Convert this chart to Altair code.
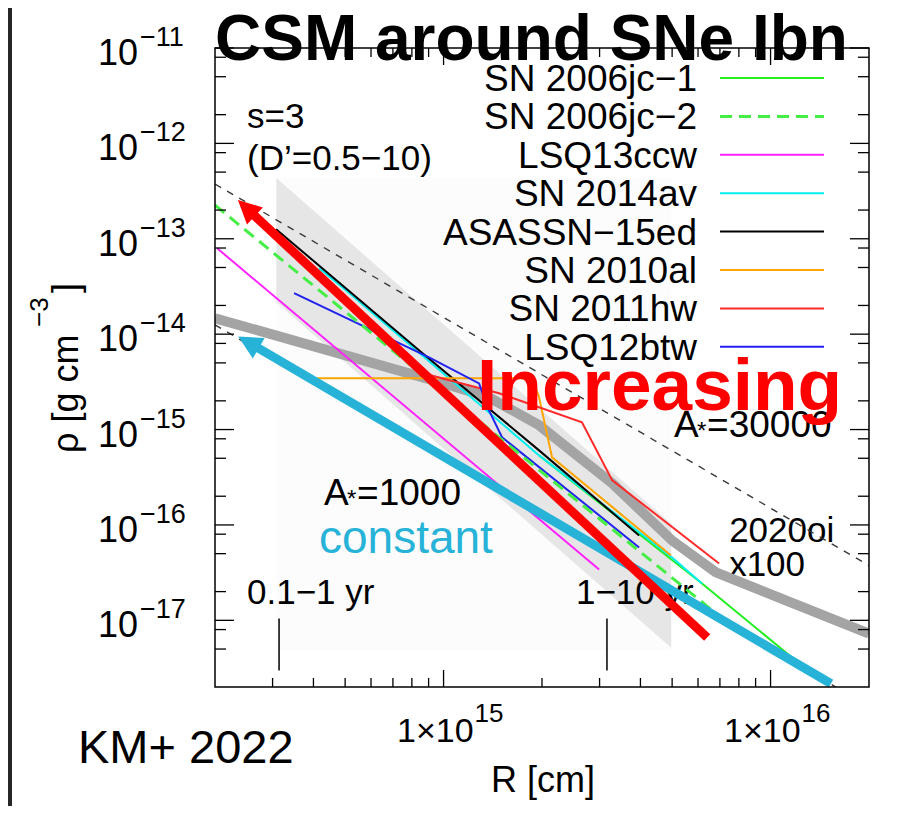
import altair as alt
import pandas as pd

# ---------------- data (R [cm], rho [g cm^-3]) ----------------
sn2006jc_1_R = [1.959e15, 6.17e15, 1.163e16]
sn2006jc_1_rho = [5.36e-16, 2.43e-17, 4.07e-18]
sn2006jc_2_R = [2.0e14, 1.478e15, 6.58e15]
sn2006jc_2_rho = [2.25e-13, 8.28e-16, 1.30e-17]
lsq13ccw_R = [2.03e14, 2.99e15]
lsq13ccw_rho = [7.96e-14, 3.41e-17]
sn2014av_R = [4.16e14, 5.03e14, 1.959e15, 4.998e15, 6.17e15]
sn2014av_rho = [4.91e-14, 2.89e-14, 5.36e-16, 4.56e-17, 2.43e-17]
asassn15ed_R = [3.075e14, 8.41e14, 1.959e15, 3.963e15]
asassn15ed_rho = [1.26e-13, 6.78e-15, 6.05e-16, 7.76e-17]
sn2010al_R = [4.10e14, 1.865e15, 1.959e15, 2.147e15, 4.96e15]
sn2010al_rho = [3.45e-15, 3.45e-15, 2.18e-15, 5.11e-16, 4.79e-17]
sn2011hw_R = [8.41e14, 1.478e15, 2.65e15, 3.28e15, 6.96e15]
sn2011hw_rho = [3.98e-15, 2.40e-15, 1.19e-15, 2.93e-16, 3.94e-17]
lsq12btw_R = [3.49e14, 5.79e14, 9.03e14, 1.284e15, 1.377e15, 1.51e15, 3.963e15]
lsq12btw_rho = [2.69e-14, 1.18e-14, 5.72e-15, 3.05e-15, 1.59e-15, 8.28e-16, 5.81e-17]
sn2020oi_R = [2.0e14, 1.003e15, 1.377e15, 1.959e15, 3.28e15, 4.998e15, 6.81e15, 2.0e16]
sn2020oi_rho = [1.47e-14, 3.05e-15, 2.18e-15, 1.11e-15, 2.73e-16, 6.87e-17, 3.18e-17, 7.27e-18]

wind30000_R = [2e14, 2e16]
wind30000_rho = [3.75e-13, 3.75e-17]
wind1000_R = [2e14, 2e16]
wind1000_rho = [1.25e-14, 1.25e-18]

band_R = [3.08e14, 4.97e15]
band_hi = [4.33e-13, 1.03e-16]
band_lo = [2.17e-14, 5.15e-18]
faint_R = [3.08e14, 4.97e15]
faint_rho = [4.33e-13, 4.82e-18]

epoch_R = [3.14e14, 3.16e15]
epoch_top = [1.045e-17, 1.045e-17]
epoch_bot = [2.97e-18, 2.97e-18]

red_arrow_R = [6.40e15, 2.495e14]
red_arrow_rho = [6.61e-18, 2.10e-13]
cyan_arrow_R = [1.53e16, 2.532e14]
cyan_arrow_rho = [2.17e-18, 8.20e-15]

ann_text = ["s=3", "(D’=0.5−10)", "2020oi", "x100", "0.1−1 yr", "1−10 yr"]
ann_R = [2.506e14, 2.506e14, 7.47e15, 7.47e15, 2.506e14, 2.54e15]
ann_rho = [1.447e-12, 5.25e-13, 6.55e-17, 2.95e-17, 1.50e-17, 1.50e-17]

wind_lab_val = ["=30000", "=1000"]
wind_lab_R = [5.07e15, 4.31e14]
wind_lab_rho = [8.28e-16, 1.60e-16]

legend_names = ["SN 2006jc−1", "SN 2006jc−2", "LSQ13ccw", "SN 2014av",
                "ASASSN−15ed", "SN 2010al", "SN 2011hw", "LSQ12btw"]
legend_colors = ["#22ee22", "#44ee44", "#ff22ff", "#00eeee",
                 "#000000", "#ffa500", "#ff2a2a", "#2222ee"]

y_tick_vals = [1e-11, 1e-12, 1e-13, 1e-14, 1e-15, 1e-16, 1e-17]
y_tick_exps = ["−11", "−12", "−13", "−14", "−15", "−16", "−17"]
y_minor = [8e-12, 5e-12, 2e-12, 8e-13, 5e-13, 2e-13, 8e-14, 5e-14, 2e-14,
           8e-15, 5e-15, 2e-15, 8e-16, 5e-16, 2e-16, 8e-17, 5e-17, 2e-17,
           8e-18, 5e-18]
x_tick_vals = [1e15, 1e16]
x_tick_base = ["1×10", "1×10"]
x_tick_exps = ["15", "16"]
x_minor = [3e14, 4e14, 5e14, 6e14, 7e14, 8e14, 9e14,
           2e15, 3e15, 4e15, 5e15, 6e15, 7e15, 8e15, 9e15]

# ---------------- layout / style ----------------
W, H = 654, 639
FONT = "Liberation Sans"
CYAN = "#27b3d8"
RED = "#ff0000"
TRI = "M0,-1L1,1L-1,1Z"

xs = alt.Scale(type="log", domain=[2e14, 2e16])
ys = alt.Scale(type="log", domain=[2e-18, 1e-11])


def X(f):
    return alt.X(f, type="quantitative", scale=xs, axis=None)


def Y(f):
    return alt.Y(f, type="quantitative", scale=ys, axis=None)


def series(name, R, rho):
    return pd.DataFrame({"name": name, "R": R, "rho": rho, "i": list(range(len(R)))})


one = pd.DataFrame({"k": [0]})
layers = []

# dark strip at left edge of the screenshot
layers.append(alt.Chart(one).mark_rect(color="#262626").encode(
    x=alt.value(-207), x2=alt.value(-203), y=alt.value(-40), y2=alt.value(H + 119)))

# shaded s=3 region
faint_df = pd.DataFrame({"R1": [faint_R[0]], "R2": [faint_R[1]],
                         "p1": [faint_rho[0]], "p2": [faint_rho[1]]})
layers.append(alt.Chart(faint_df).mark_rect(color="#fcfcfc", clip=True).encode(
    x=X("R1"), x2=alt.X2("R2"), y=Y("p1"), y2=alt.Y2("p2")))
band_df = pd.DataFrame({"R": band_R, "hi": band_hi, "lo": band_lo})
layers.append(alt.Chart(band_df).mark_area(color="#e6e6e6", clip=True).encode(
    x=X("R"), y=Y("hi"), y2=alt.Y2("lo")))

# legend (gnuplot key)
for i, (nm, col) in enumerate(zip(legend_names, legend_colors)):
    ly = 30 + 38.4 * i
    layers.append(alt.Chart(one).mark_text(
        align="right", baseline="alphabetic", fontSize=37, font=FONT, color="black"
    ).encode(x=alt.value(482), y=alt.value(ly + 13), text=alt.value(nm)))
    if nm == "SN 2006jc−2":
        rule = alt.Chart(one).mark_rule(color=col, strokeWidth=3, strokeDash=[12, 7])
    else:
        rule = alt.Chart(one).mark_rule(color=col, strokeWidth=2)
    layers.append(rule.encode(x=alt.value(505), x2=alt.value(609), y=alt.value(ly)))

# annotation texts
ann_df = pd.DataFrame({"t": ann_text, "R": ann_R, "rho": ann_rho})
layers.append(alt.Chart(ann_df).mark_text(
    align="left", baseline="alphabetic", fontSize=35, font=FONT, color="black"
).encode(x=X("R"), y=Y("rho"), text="t:N"))

# A* labels: "A", small "*", "=value"
wl_df = pd.DataFrame({"t": wind_lab_val, "R": wind_lab_R, "rho": wind_lab_rho})
layers.append(alt.Chart(wl_df).mark_text(
    align="left", baseline="alphabetic", fontSize=37, font=FONT, color="black"
).encode(x=X("R"), y=Y("rho"), text=alt.value("A")))
layers.append(alt.Chart(wl_df).mark_text(
    align="left", baseline="alphabetic", fontSize=24, font=FONT, color="black", dx=23, dy=2
).encode(x=X("R"), y=Y("rho"), text=alt.value("*")))
layers.append(alt.Chart(wl_df).mark_text(
    align="left", baseline="alphabetic", fontSize=37, font=FONT, color="black", dx=33
).encode(x=X("R"), y=Y("rho"), text="t:N"))

# wind lines (A* = 30000, 1000)
wind_df = pd.concat([series("A30000", wind30000_R, wind30000_rho),
                     series("A1000", wind1000_R, wind1000_rho)])
layers.append(alt.Chart(wind_df).mark_line(
    color="#3a3a3a", strokeWidth=1.4, strokeDash=[7, 7], clip=True
).encode(x=X("R"), y=Y("rho"), detail="name:N", order="i:Q"))

# SN 2020oi x100 (thick gray)
layers.append(alt.Chart(series("2020oi", sn2020oi_R, sn2020oi_rho)).mark_line(
    color="#a4a4a4", strokeWidth=10, clip=True, strokeJoin="round"
).encode(x=X("R"), y=Y("rho"), order="i:Q"))

# solid data lines
solid = [("SN 2006jc−1", sn2006jc_1_R, sn2006jc_1_rho),
         ("LSQ13ccw", lsq13ccw_R, lsq13ccw_rho),
         ("SN 2014av", sn2014av_R, sn2014av_rho),
         ("ASASSN−15ed", asassn15ed_R, asassn15ed_rho),
         ("SN 2010al", sn2010al_R, sn2010al_rho),
         ("SN 2011hw", sn2011hw_R, sn2011hw_rho),
         ("LSQ12btw", lsq12btw_R, lsq12btw_rho)]
solid_df = pd.concat([series(n, r, p) for n, r, p in solid])
solid_names = [s[0] for s in solid]
solid_cols = [legend_colors[legend_names.index(n)] for n in solid_names]
layers.append(alt.Chart(solid_df).mark_line(strokeWidth=2, clip=True).encode(
    x=X("R"), y=Y("rho"),
    color=alt.Color("name:N", scale=alt.Scale(domain=solid_names, range=solid_cols), legend=None),
    detail="name:N", order="i:Q"))

# dashed SN 2006jc-2
layers.append(alt.Chart(series("SN 2006jc−2", sn2006jc_2_R, sn2006jc_2_rho)).mark_line(
    color="#44ee44", strokeWidth=3, strokeDash=[12, 7], clip=True
).encode(x=X("R"), y=Y("rho"), order="i:Q"))

# epoch markers
epoch_df = pd.DataFrame({"R": epoch_R, "top": epoch_top, "bot": epoch_bot})
layers.append(alt.Chart(epoch_df).mark_rule(color="black", strokeWidth=1.5).encode(
    x=X("R"), y=Y("top"), y2=alt.Y2("bot")))

# arrows
cyan_df = series("cyan", cyan_arrow_R, cyan_arrow_rho)
layers.append(alt.Chart(cyan_df).mark_line(color=CYAN, strokeWidth=9, strokeCap="butt").encode(
    x=X("R"), y=Y("rho"), order="i:Q"))
layers.append(alt.Chart(cyan_df.iloc[[1]]).mark_point(
    shape=TRI, size=560, angle=300, filled=True, opacity=1, color=CYAN, strokeWidth=0
).encode(x=X("R"), y=Y("rho")))
red_df = series("red", red_arrow_R, red_arrow_rho)
layers.append(alt.Chart(red_df).mark_line(color=RED, strokeWidth=9, strokeCap="butt").encode(
    x=X("R"), y=Y("rho"), order="i:Q"))
layers.append(alt.Chart(red_df.iloc[[1]]).mark_point(
    shape=TRI, size=540, angle=313, filled=True, opacity=1, color=RED, strokeWidth=0
).encode(x=X("R"), y=Y("rho")))

# highlight texts
layers.append(alt.Chart(pd.DataFrame({"t": ["constant"], "R": [4.16e14], "rho": [5.02e-17]})).mark_text(
    align="left", baseline="alphabetic", fontSize=46, font=FONT, color=CYAN
).encode(x=X("R"), y=Y("rho"), text="t:N"))
layers.append(alt.Chart(pd.DataFrame({"t": ["Increasing"], "R": [1.266e15], "rho": [1.59e-15]})).mark_text(
    align="left", baseline="alphabetic", fontSize=73, fontWeight="bold", font=FONT, color=RED
).encode(x=X("R"), y=Y("rho"), text="t:N"))

# frame
layers.append(alt.Chart(one).mark_rect(fillOpacity=0, stroke="black", strokeWidth=1.5).encode(
    x=alt.value(0), x2=alt.value(W), y=alt.value(0), y2=alt.value(H)))

# ticks
ymaj = pd.DataFrame({"v": y_tick_vals})
ymin = pd.DataFrame({"v": y_minor})
xmaj = pd.DataFrame({"v": x_tick_vals})
xmin = pd.DataFrame({"v": x_minor})
for df, ln in [(ymaj, 19), (ymin, 11)]:
    layers.append(alt.Chart(df).mark_rule(color="black", strokeWidth=1.3).encode(
        y=Y("v"), x=alt.value(0), x2=alt.value(ln)))
    layers.append(alt.Chart(df).mark_rule(color="black", strokeWidth=1.3).encode(
        y=Y("v"), x=alt.value(W), x2=alt.value(W - ln)))
for df, ln in [(xmaj, 17), (xmin, 9)]:
    layers.append(alt.Chart(df).mark_rule(color="black", strokeWidth=1.3).encode(
        x=X("v"), y=alt.value(H), y2=alt.value(H - ln)))
    layers.append(alt.Chart(df).mark_rule(color="black", strokeWidth=1.3).encode(
        x=X("v"), y=alt.value(0), y2=alt.value(ln)))

# tick labels
ylab = pd.DataFrame({"v": y_tick_vals, "e": y_tick_exps})
layers.append(alt.Chart(ylab).mark_text(
    align="right", baseline="alphabetic", fontSize=36, font=FONT, color="black", dy=17
).encode(x=alt.value(-77), y=Y("v"), text=alt.value("10")))
layers.append(alt.Chart(ylab).mark_text(
    align="left", baseline="alphabetic", fontSize=27, font=FONT, color="black", dy=-2
).encode(x=alt.value(-75), y=Y("v"), text="e:N"))
xlab = pd.DataFrame({"v": x_tick_vals, "b": x_tick_base, "e": x_tick_exps})
layers.append(alt.Chart(xlab).mark_text(
    align="right", baseline="alphabetic", fontSize=34, font=FONT, color="black", dx=30
).encode(x=X("v"), y=alt.value(694), text="b:N"))
layers.append(alt.Chart(xlab).mark_text(
    align="left", baseline="alphabetic", fontSize=26, font=FONT, color="black", dx=31
).encode(x=X("v"), y=alt.value(674), text="e:N"))

# axis titles
layers.append(alt.Chart(one).mark_text(
    align="center", baseline="alphabetic", fontSize=36, font=FONT, color="black"
).encode(x=alt.value(328), y=alt.value(744), text=alt.value("R [cm]")))
for txt, xv, yv, fs in [("ρ [g cm", -137, 405, 36), ("−3", -167, 279, 26), ("]", -137, 245, 36)]:
    layers.append(alt.Chart(one).mark_text(
        align="left", baseline="alphabetic", fontSize=fs, font=FONT, color="black", angle=270
    ).encode(x=alt.value(xv), y=alt.value(yv), text=alt.value(txt)))

# title and credit
layers.append(alt.Chart(one).mark_text(
    align="left", baseline="alphabetic", fontSize=64, fontWeight="bold", font=FONT, color="black"
).encode(x=alt.value(0), y=alt.value(12), text=alt.value("CSM around SNe Ibn")))
layers.append(alt.Chart(one).mark_text(
    align="left", baseline="alphabetic", fontSize=47, font=FONT, color="black"
).encode(x=alt.value(-137), y=alt.value(715), text=alt.value("KM+ 2022")))

chart = alt.layer(*layers).properties(
    width=W, height=H,
    padding={"left": 207, "top": 40, "right": 20, "bottom": 120},
    autosize=alt.AutoSizeParams(type="none"),
    background="white",
).configure_view(stroke=None)

chart.save("out.html", embed_options={"renderer": "svg", "actions": False})
